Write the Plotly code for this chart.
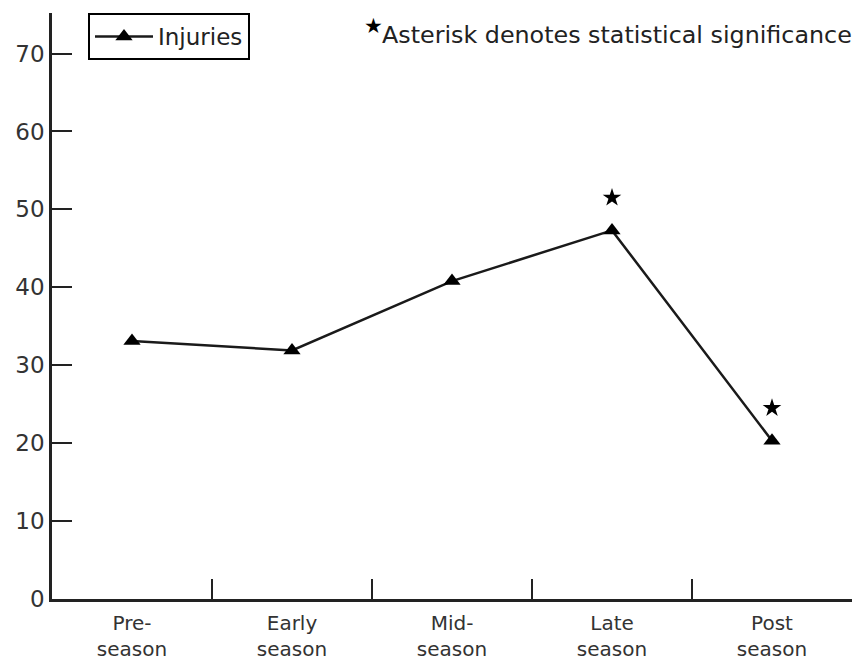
import plotly.graph_objects as go

categories = ["Pre-<br>season", "Early<br>season", "Mid-<br>season", "Late<br>season", "Post<br>season"]
injuries = [33.1, 31.9, 40.8, 47.3, 20.3]
sig_categories = ["Late<br>season", "Post<br>season"]
sig_values = [51.5, 24.5]
y_ticks = [0, 10, 20, 30, 40, 50, 60, 70]

FONT = "'DejaVu Sans', sans-serif"

fig = go.Figure()
fig.add_trace(go.Scatter(
    x=categories, y=injuries, mode="lines+markers", name="Injuries",
    line=dict(color="#1a1a1a", width=2.5),
    marker=dict(symbol="triangle-up", size=15, color="black"),
))
fig.add_trace(go.Scatter(
    x=sig_categories, y=sig_values, mode="markers", showlegend=False,
    marker=dict(symbol="star", size=14, color="black"),
))

fig.add_annotation(
    text="Asterisk denotes statistical significance",
    xref="paper", yref="paper", x=1.0, y=1.0, xanchor="right", yanchor="top",
    yshift=-6, xshift=2, showarrow=False,
    font=dict(family=FONT, size=23.8, color="#222"),
)
fig.add_annotation(
    text="★",
    xref="paper", yref="paper", x=0.416, y=1.0, xanchor="right", yanchor="middle",
    yshift=-13, showarrow=False,
    font=dict(family=FONT, size=21, color="black"),
)

fig.update_layout(
    width=854, height=664,
    margin=dict(l=52, r=2, t=13, b=65),
    paper_bgcolor="white", plot_bgcolor="white",
    font=dict(family=FONT, color="#333"),
    showlegend=True,
    legend=dict(
        x=0.045, y=1.0, xanchor="left", yanchor="top",
        bordercolor="black", borderwidth=2, bgcolor="white",
        font=dict(family=FONT, size=23, color="#222"),
        itemwidth=58,
    ),
    xaxis=dict(
        type="category", categoryorder="array", categoryarray=categories,
        range=[-0.5, 4.5], tickson="boundaries", automargin=False,
        ticks="inside", ticklen=20, tickwidth=2, tickcolor="#222",
        showline=True, linecolor="#222", linewidth=2.5,
        showgrid=False, zeroline=False, ticklabelstandoff=4,
        tickfont=dict(family=FONT, size=20, color="#333"),
    ),
    yaxis=dict(
        range=[0, 75.2], tickvals=y_ticks, automargin=False,
        ticks="inside", ticklen=20, tickwidth=2, tickcolor="#222",
        showline=True, linecolor="#222", linewidth=2.5,
        showgrid=False, zeroline=False,
        tickfont=dict(family=FONT, size=23, color="#333"),
    ),
)

fig.write_html(
    "out.html",
    config={"displayModeBar": False},
    post_script="document.body.style.margin='0';document.body.style.overflow='hidden';",
)
